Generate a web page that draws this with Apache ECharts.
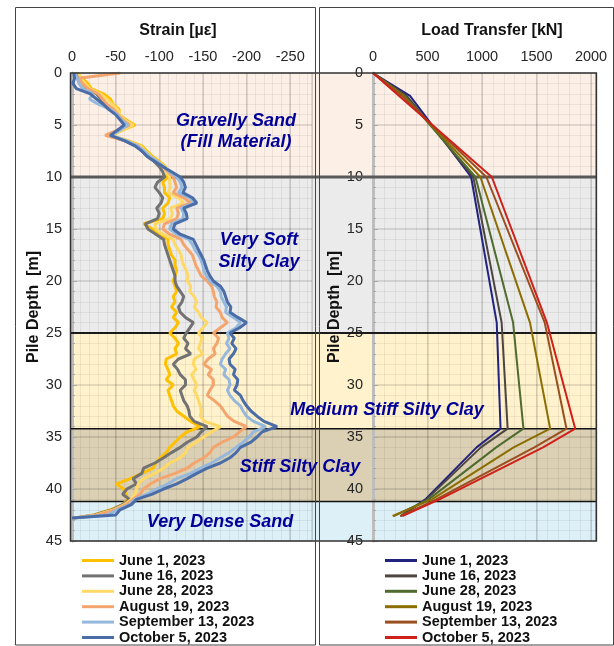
<!DOCTYPE html>
<html><head><meta charset="utf-8">
<script src="https://cdn.jsdelivr.net/npm/echarts@6/dist/echarts.min.js"></script>
<style>html,body{margin:0;padding:0;background:#fff}#c{width:614px;height:646px}</style>
</head><body><div id="c"></div>
<script>
// ---------- DATA ----------
const seriesNames = ['June 1, 2023','June 16, 2023','June 28, 2023','August 19, 2023','September 13, 2023','October 5, 2023'];

// depth sampling of the strain profiles [m]
const strainDepths = [
  0,0.5,1,1.5,2,2.5,3,3.5,4,4.5,
  5,5.5,6,6.5,7,7.5,8,8.5,9,9.5,
  10,10.5,11,11.5,12,12.5,13,13.5,14,14.5,
  15,15.5,16,16.5,17,17.5,18,18.5,19,19.5,
  20,20.5,21,21.5,22,22.5,23,23.5,24,24.5,
  25,25.5,26,26.5,27,27.5,28,28.5,29,29.5,
  30,30.5,31,31.5,32,32.5,33,33.5,34,34.5,
  35,35.5,36,36.5,37,37.5,38,38.5,39,39.5,
  40,40.5,41,41.5,42,42.5,42.8];

const strainJune1 = [
  -4,-12,-18,-22,-36,-44,-47,-54,-54,-62,
  -72,-58,-44,-64,-80,-86,-92,-100,-107,-108,
  -110,-104,-106,-106,-112,-110,-104,-106,-104,-82,
  -92,-100,-110,-110,-112,-114,-118,-118,-120,-118,
  -116,-118,-120,-116,-118,-114,-120,-116,-122,-118,
  -112,-118,-122,-118,-120,-108,-107,-110,-112,-108,
  -116,-110,-112,-114,-116,-120,-128,-136,-147,-132,
  -124,-118,-112,-108,-101,-96,-93,-80,-67,-51,
  -59,-62,-64,-58,-44,-25,-1];
const strainJune16 = [
  -6,-8,-12,-17,-28,-33,-38,-46,-52,-56,
  -64,-54,-42,-60,-74,-80,-86,-94,-100,-104,
  -106,-98,-95,-100,-104,-102,-97,-100,-98,-84,
  -87,-96,-105,-106,-108,-110,-112,-114,-116,-118,
  -118,-120,-124,-128,-126,-122,-124,-130,-139,-135,
  -131,-128,-133,-130,-136,-122,-116,-121,-124,-130,
  -130,-124,-126,-128,-132,-134,-135,-140,-155,-148,
  -143,-132,-124,-114,-105,-95,-82,-80,-70,-74,
  -63,-58,-66,-58,-46,-26,-2];
const strainJune28 = [
  -8,-10,-15,-20,-32,-40,-46,-52,-55,-60,
  -70,-58,-46,-62,-78,-84,-90,-98,-106,-108,
  -112,-112,-113,-110,-122,-128,-113,-115,-113,-95,
  -96,-104,-116,-118,-122,-125,-126,-128,-131,-133,
  -132,-136,-135,-140,-143,-140,-145,-148,-155,-150,
  -145,-149,-147,-145,-150,-140,-139,-142,-137,-140,
  -143,-140,-143,-145,-147,-148,-147,-152,-170,-160,
  -151,-142,-133,-130,-124,-112,-105,-95,-82,-76,
  -74,-72,-68,-60,-48,-28,-2];
const strainAug19 = [
  -55,-8,-12,-18,-30,-35,-40,-48,-53,-58,
  -66,-52,-38,-60,-76,-82,-88,-96,-104,-110,
  -116,-118,-120,-116,-128,-136,-120,-122,-120,-106,
  -104,-112,-125,-128,-133,-138,-140,-142,-145,-148,
  -155,-160,-162,-163,-166,-165,-170,-172,-178,-170,
  -162,-168,-166,-162,-164,-156,-151,-160,-156,-162,
  -162,-158,-155,-163,-170,-174,-178,-186,-200,-192,
  -185,-172,-162,-158,-151,-140,-132,-118,-101,-90,
  -82,-78,-70,-62,-50,-30,-2];
const strainSep13 = [
  -4,-6,-8,-12,-24,-20,-30,-44,-52,-56,
  -64,-55,-45,-62,-75,-83,-89,-98,-105,-112,
  -120,-124,-126,-122,-135,-140,-125,-128,-127,-114,
  -112,-120,-134,-138,-141,-145,-148,-150,-151,-154,
  -158,-166,-170,-171,-174,-177,-176,-185,-193,-188,
  -178,-180,-177,-181,-176,-172,-170,-176,-174,-180,
  -181,-178,-181,-186,-193,-196,-200,-208,-222,-208,
  -203,-196,-188,-180,-170,-160,-147,-136,-120,-110,
  -97,-86,-72,-66,-52,-40,-2];
const strainOct5 = [
  -2,-3,-1,-5,-21,-28,-36,-42,-50,-55,
  -60,-52,-44,-60,-72,-80,-86,-95,-104,-114,
  -124,-128,-130,-127,-138,-143,-128,-131,-132,-118,
  -116,-124,-139,-142,-145,-148,-151,-153,-155,-158,
  -162,-170,-174,-176,-178,-182,-181,-190,-200,-192,
  -181,-186,-183,-188,-185,-180,-181,-187,-185,-190,
  -189,-186,-193,-196,-200,-205,-212,-220,-235,-218,
  -212,-205,-193,-188,-181,-170,-155,-143,-132,-120,
  -105,-92,-74,-68,-55,-50,0];
const strainValues = [strainJune1, strainJune16, strainJune28, strainAug19, strainSep13, strainOct5];

// load transfer [kN] at the depths below
const loadDepths  = [0, 2.2, 10, 24, 34.2, 36, 41, 42.6];
const loadJune1   = [0, 340,  900, 1135, 1170,  950, 480, 260];
const loadJune16  = [0, 310,  920, 1180, 1235,  990, 490, 250];
const loadJune28  = [0, 290,  940, 1285, 1380, 1130, 510, 190];
const loadAug19   = [0, 280,  985, 1440, 1625, 1290, 540, 180];
const loadSep13   = [0, 265, 1040, 1575, 1775, 1480, 580, 250];
const loadOct5    = [0, 240, 1090, 1595, 1855, 1560, 610, 270];
const loadValues = [loadJune1, loadJune16, loadJune28, loadAug19, loadSep13, loadOct5];

// soil layers
const layerBounds = [0, 10, 25, 34.2, 41.2, 45];
const layerNames = [['Gravelly Sand','(Fill Material)'], ['Very Soft','Silty Clay'], ['Medium Stiff Silty Clay'], ['Stiff Silty Clay'], ['Very Dense Sand']];

// ---------- STYLE ----------
const FONT = '"Liberation Sans", Arial, sans-serif';
const strainColors = ['#FFC000','#727272','#FFD966','#F4A56E','#95B8DC','#4A6DA7'];
const loadColors = ['#22227F','#4D4540','#4F6B2E','#8B6D00','#9A4F1E','#D0201A'];
const layerColors = ['#FCEFE6','#EBEBEB','#FFF2CC','#DCD0B4','#DDEFF7'];
const boundaryStyles = [null,{c:'#595959',w:3},{c:'#1a1a1a',w:2},{c:'#111',w:1.5},{c:'#111',w:1.5},null];
const labelPos = [[[236,121],[236,142]],[[259,240],[259,262]],[[387,410]],[[300,467]],[[220,522]]];
const textBlue = '#000099';

const chart = echarts.init(document.getElementById('c'), null, {renderer:'canvas'});
const series = [];
seriesNames.forEach((n,k)=>{
  series.push({name:n, type:'line', xAxisIndex:0, yAxisIndex:0, symbol:'none', showSymbol:false,
    data: strainDepths.map((d,i)=>[strainValues[k][i], d]),
    lineStyle:{width:3, color:strainColors[k]}, itemStyle:{color:strainColors[k]}, z:3, silent:true});
});
seriesNames.forEach((n,k)=>{
  series.push({name:n+' ', type:'line', xAxisIndex:2, yAxisIndex:1, symbol:'none', showSymbol:false,
    data: loadDepths.map((d,i)=>[loadValues[k][i], d]),
    lineStyle:{width:2, color:loadColors[k]}, itemStyle:{color:loadColors[k]}, z:3, silent:true});
});

const majorSplit = {show:true, lineStyle:{color:'rgba(0,0,0,0.15)', width:1.5}};
const minorSplit = {show:true, lineStyle:{color:'rgba(0,0,0,0.06)', width:1}};
const tickLbl = {color:'#262626', fontSize:14.5, fontFamily:FONT};
function yAx(grid){
  return {gridIndex:grid, type:'value', inverse:true, min:0, max:45, interval:5,
    name:'Pile Depth  [m]', nameLocation:'middle', nameGap:grid===0?30:28, nameRotate:90,
    nameTextStyle:{fontWeight:'bold', fontSize:16, color:'#111', fontFamily:FONT},
    axisLine:{show:true, lineStyle:{color:'#BDBDBD', width:3}},
    axisTick:{show:true, inside:true, length:5, lineStyle:{color:'#AAAAAA'}},
    minorTick:{show:true, splitNumber:5, length:3, lineStyle:{color:'#AAAAAA'}},
    axisLabel:Object.assign({margin:10}, tickLbl),
    splitLine:majorSplit, minorSplitLine:minorSplit};
}

const legendText = {fontSize:14.5, fontWeight:'bold', color:'#111', fontFamily:FONT, lineHeight:14};
const option = {
  animation:false,
  grid:[{left:72, top:73, width:240, height:468},{left:373, top:73, width:222.4, height:468}],
  xAxis:[
    {gridIndex:0, type:'value', position:'top', inverse:true, min:-275, max:0, splitNumber:5,
      axisLine:{show:false}, axisTick:{show:false},
      axisLabel:Object.assign({margin:9, formatter:v=> (v % 50 === 0 ? String(v) : '')}, tickLbl),
      splitLine:majorSplit},
    {gridIndex:0, type:'value', position:'bottom', inverse:true, min:-275, max:0, splitNumber:27,
      axisLine:{show:false}, axisTick:{show:false}, axisLabel:{show:false}, splitLine:minorSplit},
    {gridIndex:1, type:'value', position:'top', min:0, max:2040, splitNumber:5,
      axisLine:{show:false}, axisTick:{show:false},
      axisLabel:Object.assign({margin:9, formatter:v=> (v <= 2000 ? String(v) : '')}, tickLbl),
      splitLine:majorSplit},
    {gridIndex:1, type:'value', position:'bottom', min:0, max:2040, splitNumber:20,
      axisLine:{show:false}, axisTick:{show:false}, axisLabel:{show:false}, splitLine:minorSplit}
  ],
  yAxis:[yAx(0), yAx(1)],
  legend:[
    {data:seriesNames, left:82, top:553, height:130, width:220, orient:'vertical', icon:'rect', itemWidth:32, itemHeight:3, itemGap:0.4,
      padding:0, selectedMode:false, textStyle:legendText},
    {data:seriesNames.map(n=>n+' '), left:385, top:553, height:130, width:220, orient:'vertical', icon:'rect', itemWidth:32, itemHeight:3, itemGap:0.4,
      padding:0, selectedMode:false, textStyle:legendText}
  ],
  series:series
};
chart.setOption(option);

// background layers, boundaries, frames and labels
const py = d => chart.convertToPixel({yAxisIndex:0}, d);
const xL = chart.convertToPixel({xAxisIndex:0}, 0) - 1.5;
const xR = chart.convertToPixel({xAxisIndex:2}, 2040) + 1;
const els = [];
for (let i=0;i<layerColors.length;i++){
  const y0 = py(layerBounds[i]), y1 = py(layerBounds[i+1]);
  els.push({type:'rect', z:-10, silent:true, shape:{x:xL, y:y0, width:xR-xL, height:y1-y0}, style:{fill:layerColors[i]}});
}
for (let i=1;i<layerBounds.length-1;i++){
  const y = py(layerBounds[i]), s = boundaryStyles[i];
  els.push({type:'line', z:1, silent:true, shape:{x1:xL, y1:y, x2:xR, y2:y}, style:{stroke:s.c, lineWidth:s.w}});
}
els.push({type:'rect', z:5, silent:true, shape:{x:xL, y:py(0), width:xR-xL, height:py(45)-py(0)}, style:{fill:null, stroke:'#333', lineWidth:1.5}});
els.push({type:'rect', z:60, silent:true, shape:{x:15.5, y:7.5, width:300, height:637.5}, style:{fill:null, stroke:'#444', lineWidth:1}});
els.push({type:'rect', z:60, silent:true, shape:{x:319.5, y:7.5, width:294, height:637.5}, style:{fill:null, stroke:'#444', lineWidth:1}});
layerNames.forEach((lines,i)=>{
  lines.forEach((t,j)=>{
    const p = labelPos[i][j];
    els.push({type:'text', z:70, silent:true, x:p[0], y:p[1], style:{text:t, fill:textBlue, fontSize:18, fontWeight:'bold', fontStyle:'italic', fontFamily:FONT, align:'center', verticalAlign:'middle', textAlign:'center', textVerticalAlign:'middle'}});
  });
});
els.push({type:'text', z:70, silent:true, x:178, y:31, style:{text:'Strain [µε]', fill:'#111', fontSize:16, fontWeight:'bold', fontFamily:FONT, align:'center', verticalAlign:'middle', textAlign:'center', textVerticalAlign:'middle'}});
els.push({type:'text', z:70, silent:true, x:492, y:31, style:{text:'Load Transfer [kN]', fill:'#111', fontSize:16, fontWeight:'bold', fontFamily:FONT, align:'center', verticalAlign:'middle', textAlign:'center', textVerticalAlign:'middle'}});
chart.setOption({graphic:{elements:els}});
</script>
</body></html>
